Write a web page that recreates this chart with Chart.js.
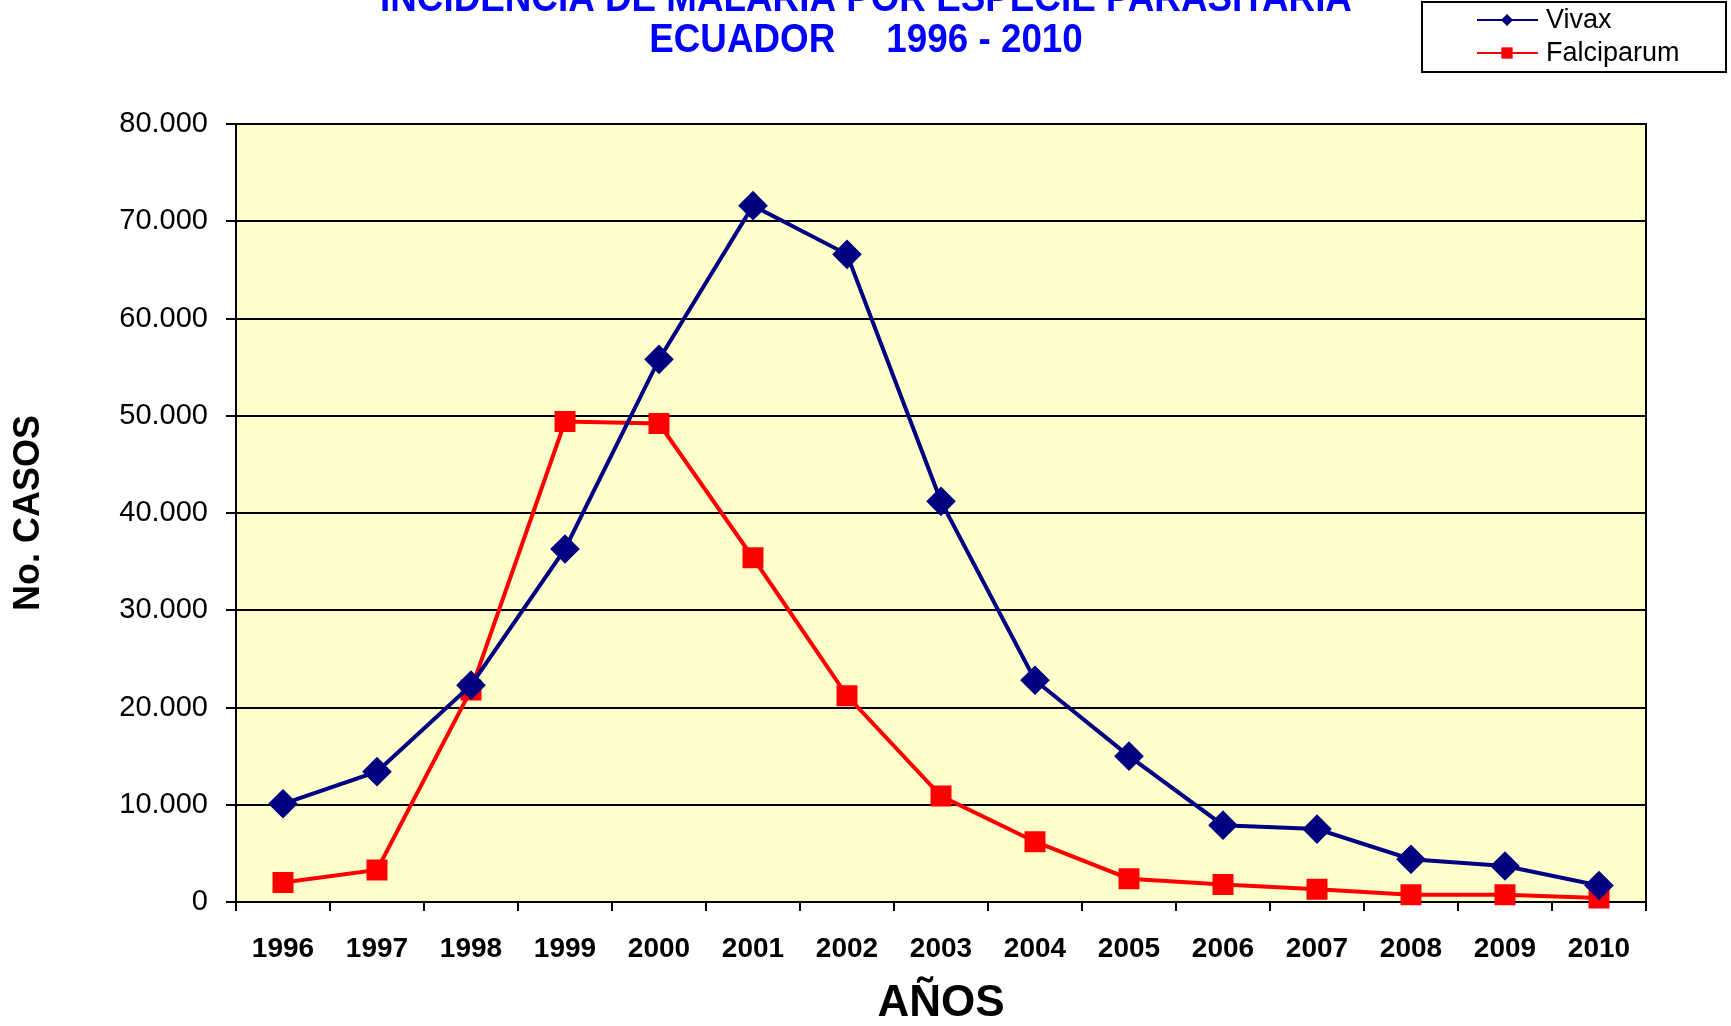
<!DOCTYPE html>
<html>
<head>
<meta charset="utf-8">
<title>Incidencia de malaria por especie parasitaria - Ecuador 1996-2010</title>
<script src="https://cdn.jsdelivr.net/npm/chart.js@4/dist/chart.umd.min.js"></script>
<style>
  html, body { margin: 0; padding: 0; background: #ffffff; }
  #wrap { width: 1731px; height: 1026px; position: relative; }
</style>
</head>
<body>
<div id="wrap"><canvas id="malariaChart"></canvas></div>
<script>
// data
var years = ['1996','1997','1998','1999','2000','2001','2002','2003','2004','2005','2006','2007','2008','2009','2010'];
var vivax = [10100, 13400, 22300, 36300, 55800, 71600, 66600, 41200, 22800, 15000, 7900, 7500, 4400, 3700, 1700];
var falciparum = [2000, 3300, 21800, 49400, 49200, 35400, 21200, 10900, 6200, 2400, 1800, 1300, 750, 750, 400];
var yTicks = { min: 0, max: 80000, step: 10000 };

var titleLines = ['INCIDENCIA DE MALARIA POR ESPECIE PARASITARIA', 'ECUADOR     1996 - 2010'];
var plain = "'Liberation Sans', Arial, sans-serif";

function dots(v) {
    return String(v).replace(/\B(?=(\d{3})+(?!\d))/g, '.');
}

// yellow plot background + frame
var plotFrame = {
    id: 'plotFrame',
    beforeDraw: function (chart) {
        var a = chart.chartArea, ctx = chart.ctx;
        ctx.save();
        ctx.fillStyle = '#ffffcc';
        ctx.fillRect(a.left, a.top, a.right - a.left, a.bottom - a.top);
        ctx.restore();
    },
    beforeDatasetsDraw: function (chart) {
        var a = chart.chartArea, ctx = chart.ctx;
        ctx.save();
        ctx.strokeStyle = '#000000';
        ctx.lineWidth = 2;
        ctx.strokeRect(a.left, a.top, a.right - a.left, a.bottom - a.top);
        ctx.restore();
    }
};

// title (top line partly off the page, as in the original) and boxed legend
var titleAndLegend = {
    id: 'titleAndLegend',
    afterDraw: function (chart) {
        var ctx = chart.ctx;
        ctx.save();
        // narrow bold look: squeeze the regular bold face a bit
        ctx.save();
        ctx.translate(866, 0);
        ctx.scale(0.92, 1);
        ctx.fillStyle = '#0000ff';
        ctx.textAlign = 'center';
        ctx.textBaseline = 'middle';
        ctx.font = 'bold 40px ' + plain;
        ctx.fillText(titleLines[0], 0, 0);
        ctx.fillText(titleLines[1], 0, 41);
        ctx.restore();

        // legend
        ctx.strokeStyle = '#000000';
        ctx.lineWidth = 2;
        ctx.strokeRect(1422, 2, 304, 70);
        var rows = [20, 53];
        chart.data.datasets.forEach(function (ds, i) {
            var y = rows[i];
            ctx.strokeStyle = ds.borderColor;
            ctx.lineWidth = 2;
            ctx.beginPath();
            ctx.moveTo(1477, y);
            ctx.lineTo(1538, y);
            ctx.stroke();
            ctx.fillStyle = ds.pointBackgroundColor;
            Chart.helpers.drawPoint(ctx, {
                pointStyle: ds.pointStyle,
                radius: ds.pointStyle === 'rect' ? 8 : 6,
                rotation: 0,
                borderWidth: 0
            }, 1507, y);
            ctx.fillStyle = '#000000';
            ctx.textAlign = 'left';
            ctx.textBaseline = 'middle';
            ctx.font = '27px ' + plain;
            ctx.fillText(ds.label, 1546, y + 1);
        });
        ctx.restore();
    }
};

var ctx = document.getElementById('malariaChart').getContext('2d');
var malariaChart = new Chart(ctx, {
    type: 'line',
    plugins: [plotFrame, titleAndLegend],
    data: {
        labels: years,
        datasets: [{
            label: 'Vivax',
            data: vivax,
            borderColor: '#000080',
            backgroundColor: '#000080',
            pointBackgroundColor: '#000080',
            pointBorderColor: '#000080',
            pointStyle: 'rectRot',
            pointRadius: 12,
            pointHoverRadius: 12,
            borderWidth: 4,
            tension: 0,
            clip: false
        }, {
            label: 'Falciparum',
            data: falciparum,
            borderColor: '#ff0000',
            backgroundColor: '#ff0000',
            pointBackgroundColor: '#ff0000',
            pointBorderColor: '#ff0000',
            pointStyle: 'rect',
            pointRadius: 12,
            pointHoverRadius: 12,
            borderWidth: 4,
            tension: 0,
            clip: false
        }]
    },
    options: {
        responsive: true,
        maintainAspectRatio: false,
        animation: false,
        layout: {
            padding: { top: 124, right: 85, left: 0, bottom: 0 }
        },
        plugins: {
            legend: { display: false },
            title: { display: false },
            tooltip: { enabled: false }
        },
        scales: {
            x: {
                offset: true,
                afterFit: function (scale) { scale.height = 124; },
                grid: {
                    offset: true,
                    drawOnChartArea: false,
                    drawTicks: true,
                    tickLength: 9,
                    color: '#000000',
                    lineWidth: 2
                },
                border: { display: true, color: '#000000', width: 2 },
                ticks: {
                    color: '#000000',
                    padding: 21,
                    maxRotation: 0,
                    autoSkip: false,
                    font: { family: plain, size: 28, weight: 'bold' }
                },
                title: {
                    display: true,
                    text: 'AÑOS',
                    color: '#000000',
                    font: { family: plain, size: 44, weight: 'bold', lineHeight: 1 },
                    padding: { top: 0, bottom: 0 }
                }
            },
            y: {
                min: yTicks.min,
                max: yTicks.max,
                afterFit: function (scale) { scale.width = 236; },
                grid: {
                    color: '#000000',
                    lineWidth: 2,
                    tickLength: 10
                },
                border: { display: true, color: '#000000', width: 2 },
                ticks: {
                    stepSize: yTicks.step,
                    color: '#000000',
                    padding: 18,
                    font: { family: plain, size: 29 },
                    callback: function (value) { return dots(value); }
                },
                title: {
                    display: true,
                    text: 'No. CASOS',
                    color: '#000000',
                    font: { family: plain, size: 36, weight: 'bold', lineHeight: 1.2 },
                    padding: { top: 7, bottom: 0 }
                }
            }
        }
    }
});
</script>
</body>
</html>
